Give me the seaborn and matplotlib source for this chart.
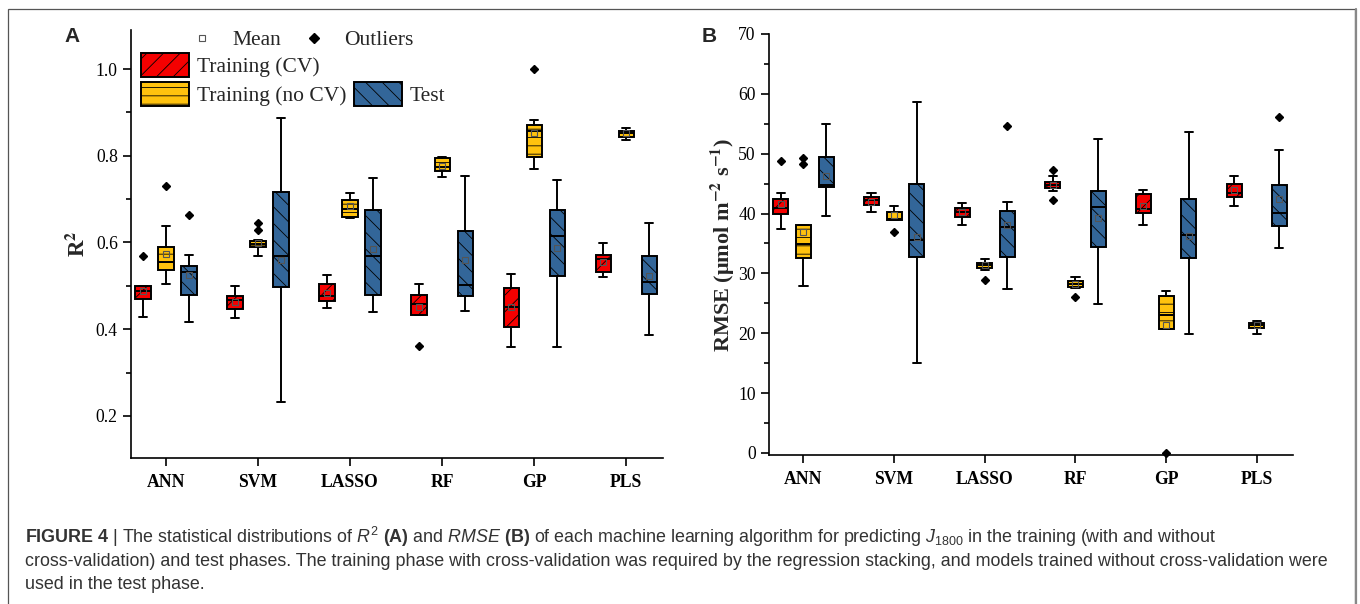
import matplotlib
matplotlib.use("Agg")
import matplotlib.pyplot as plt
import seaborn as sns
from matplotlib.patches import Patch, Rectangle
from matplotlib.lines import Line2D
from matplotlib.ticker import MultipleLocator

# ---------------- data ----------------
ALGORITHMS = ["ANN", "SVM", "LASSO", "RF", "GP", "PLS"]
PHASES = ["Training (CV)", "Training (no CV)", "Test"]
# each row: [whisker low, Q1, median, Q3, whisker high, mean]
R2_CV = [[0.428, 0.470, 0.488, 0.500, 0.500, 0.487],
         [0.425, 0.446, 0.468, 0.476, 0.500, 0.463],
         [0.449, 0.465, 0.477, 0.505, 0.524, 0.484],
         [0.433, 0.433, 0.458, 0.478, 0.504, 0.452],
         [0.359, 0.406, 0.452, 0.494, 0.527, 0.451],
         [0.520, 0.531, 0.561, 0.570, 0.599, 0.555]]
R2_CV_OUT = [[0.568], [], [], [0.362], [], []]
R2_NOCV = [[0.505, 0.537, 0.555, 0.589, 0.638, 0.573],
           [0.569, 0.589, 0.597, 0.603, 0.605, 0.599],
           [0.657, 0.658, 0.677, 0.698, 0.715, 0.683],
           [0.751, 0.764, 0.773, 0.794, 0.796, 0.776],
           [0.769, 0.798, 0.857, 0.871, 0.882, 0.852],
           [0.836, 0.844, 0.852, 0.858, 0.865, 0.853]]
R2_NOCV_OUT = [[0.730], [0.629, 0.646], [], [], [1.0], []]
R2_TEST = [[0.416, 0.480, 0.533, 0.546, 0.571, 0.525],
           [0.233, 0.497, 0.568, 0.717, 0.887, 0.559],
           [0.440, 0.480, 0.568, 0.674, 0.748, 0.584],
           [0.441, 0.476, 0.503, 0.626, 0.754, 0.559],
           [0.359, 0.523, 0.616, 0.674, 0.744, 0.587],
           [0.387, 0.482, 0.510, 0.568, 0.645, 0.523]]
R2_TEST_OUT = [[0.664], [], [], [], [], []]

RMSE_CV = [[37.4, 40.0, 40.9, 42.4, 43.4, 41.6],
           [40.3, 41.4, 42.2, 42.8, 43.4, 42.0],
           [38.0, 39.4, 40.2, 41.0, 41.8, 40.2],
           [43.8, 44.2, 44.7, 45.3, 46.3, 44.8],
           [38.1, 40.1, 40.7, 43.3, 43.9, 41.3],
           [41.3, 42.7, 43.5, 44.9, 46.2, 43.9]]
RMSE_CV_OUT = [[48.7], [], [], [47.2, 42.2], [], []]
RMSE_NOCV = [[27.9, 32.5, 34.9, 38.1, 38.1, 36.9],
             [39.0, 39.0, 39.1, 40.2, 41.3, 39.8],
             [30.5, 30.9, 31.4, 31.8, 32.4, 31.4],
             [27.5, 27.7, 28.2, 28.7, 29.4, 28.2],
             [20.7, 20.7, 23.0, 26.3, 27.1, 21.4],
             [19.9, 20.9, 21.4, 21.7, 22.1, 21.3]]
RMSE_NOCV_OUT = [[48.2, 49.3], [36.9], [28.9], [26.0], [0.0], []]
RMSE_TEST = [[39.6, 44.4, 44.8, 49.4, 55.0, 46.3],
             [15.1, 32.7, 35.6, 44.9, 58.7, 36.1],
             [27.4, 32.7, 37.7, 40.5, 41.9, 38.1],
             [24.9, 34.4, 41.1, 43.7, 52.5, 39.2],
             [19.9, 32.5, 36.4, 42.4, 53.6, 36.3],
             [34.2, 37.9, 40.1, 44.8, 50.6, 42.4]]
RMSE_TEST_OUT = [[], [], [54.7], [], [], [56.1]]

R2_TICKS = [0.2, 0.4, 0.6, 0.8, 1.0]
RMSE_TICKS = [0, 10, 20, 30, 40, 50, 60, 70]

# ---------------- style ----------------
COLORS = ["#F50000", "#FFC20E", "#336699"]
HATCHES = ["//", "--", "\\\\"]
OFFSETS = [-0.25, 0.0, 0.25]

sns.set_theme(style="ticks")
plt.rcParams["font.family"] = ["Liberation Serif", "DejaVu Serif"]
plt.rcParams["hatch.linewidth"] = 0.6
plt.rcParams["hatch.color"] = "black"
plt.rcParams["axes.edgecolor"] = "black"
plt.rcParams["xtick.color"] = "black"
plt.rcParams["ytick.color"] = "black"
plt.rcParams["mathtext.fontset"] = "custom"
plt.rcParams["mathtext.rm"] = "Liberation Sans"
plt.rcParams["mathtext.it"] = "Liberation Sans:italic"
plt.rcParams["mathtext.bf"] = "Liberation Sans:bold"

W, H = 1360, 604
fig = plt.figure(figsize=(W / 100, H / 100), dpi=100)


def box(x0, y0, x1, y1):
    return [x0 / W, 1 - y1 / H, (x1 - x0) / W, (y1 - y0) / H]


def fxy(x, y):
    return (x / W, 1 - y / H)


def make_stats(rows, outs):
    return [dict(whislo=r[0], q1=r[1], med=r[2], q3=r[3], whishi=r[4],
                 mean=r[5], fliers=o) for r, o in zip(rows, outs)]


def draw_panel(ax, groups):
    for k, (rows, outs) in enumerate(groups):
        pos = [i + 1 + OFFSETS[k] for i in range(len(ALGORITHMS))]
        ax.bxp(make_stats(rows, outs), positions=pos, widths=0.165,
               patch_artist=True, showmeans=True, manage_ticks=False,
               capwidths=0.09,
               boxprops=dict(facecolor=COLORS[k], edgecolor="black",
                             linewidth=1.4, hatch=HATCHES[k]),
               whiskerprops=dict(color="black", linewidth=1.4),
               capprops=dict(color="black", linewidth=1.4),
               medianprops=dict(color="black", linewidth=1.4),
               meanprops=dict(marker="s", markerfacecolor="none",
                              markeredgecolor="#555555", markersize=4.5,
                              markeredgewidth=0.8),
               flierprops=dict(marker="D", markerfacecolor="black",
                               markeredgecolor="black", markersize=4.5,
                               clip_on=False))
    ax.set_xlim(0.62, 6.4)
    ax.set_xticks(range(1, len(ALGORITHMS) + 1))
    ax.set_xticklabels(ALGORITHMS, fontweight="bold", fontsize=12.7)
    sns.despine(ax=ax)
    for s in ["left", "bottom"]:
        ax.spines[s].set_linewidth(1.2)
        ax.spines[s].set_color("black")
    ax.tick_params(axis="both", which="major", direction="out", length=5.5,
                   width=1.2, labelsize=12.7)
    ax.tick_params(axis="y", which="minor", direction="out", length=3.5,
                   width=1.2, left=True)
    ax.tick_params(axis="y", which="major", pad=4)
    ax.tick_params(axis="x", which="major", pad=6)
    ax.set_facecolor("none")
    ax.grid(False)


# Panel A
axA = fig.add_axes(box(131, 30, 663, 458))
draw_panel(axA, [(R2_CV, R2_CV_OUT), (R2_NOCV, R2_NOCV_OUT), (R2_TEST, R2_TEST_OUT)])
axA.set_ylim(0.103, 1.09)
axA.set_yticks(R2_TICKS)
axA.set_yticklabels([f"{t:.1f}" for t in R2_TICKS])
axA.yaxis.set_minor_locator(MultipleLocator(0.1))
axA.set_ylabel(r"R$^{\mathbf{2}}$", fontsize=16.5, fontweight="bold",
               math_fontfamily="stix")
axA.yaxis.set_label_coords(-0.078, 0.5)

# Panel B
axB = fig.add_axes(box(769, 34, 1293, 455))
draw_panel(axB, [(RMSE_CV, RMSE_CV_OUT), (RMSE_NOCV, RMSE_NOCV_OUT), (RMSE_TEST, RMSE_TEST_OUT)])
axB.set_ylim(-0.35, 70)
axB.set_yticks(RMSE_TICKS)
axB.set_yticklabels([str(t) for t in RMSE_TICKS])
axB.yaxis.set_minor_locator(MultipleLocator(5))
axB.set_ylabel(r"RMSE (μmol m$^{\mathbf{-2}}$ s$^{\mathbf{-1}}$)", fontsize=16,
               fontweight="bold", math_fontfamily="stix")
axB.yaxis.set_label_coords(-0.062, 0.5)

# Legends in panel A
mk_handles = [Line2D([], [], marker="s", markerfacecolor="none",
                     markeredgecolor="#555555", markersize=5,
                     markeredgewidth=0.8, linestyle="none"),
              Line2D([], [], marker="D", color="black", markersize=5,
                     linestyle="none")]
leg1 = fig.legend(mk_handles, ["Mean", "Outliers"], loc="upper left",
                  bbox_to_anchor=fxy(182, 30), bbox_transform=fig.transFigure,
                  ncol=2, frameon=False, fontsize=15.5, handlelength=1.9,
                  handletextpad=0.45, columnspacing=0.55, borderpad=0,
                  borderaxespad=0)
patch_handles = [Patch(facecolor=COLORS[0], edgecolor="black", hatch=HATCHES[0], linewidth=1.4),
                 Patch(facecolor=COLORS[1], edgecolor="black", hatch=HATCHES[1], linewidth=1.4),
                 Patch(facecolor="none", edgecolor="none"),
                 Patch(facecolor=COLORS[2], edgecolor="black", hatch=HATCHES[2], linewidth=1.4)]
leg2 = fig.legend(patch_handles, [PHASES[0], PHASES[1], "", PHASES[2]],
                  loc="upper left", bbox_to_anchor=fxy(141, 53),
                  bbox_transform=fig.transFigure, ncol=2, frameon=False,
                  fontsize=15.5, handlelength=2.25, handleheight=1.35,
                  handletextpad=0.35, columnspacing=0.35, labelspacing=0.2,
                  borderpad=0, borderaxespad=0)

# Panel letters
fig.text(*fxy(72, 37), "A", fontsize=15, fontweight="bold",
         family="Liberation Sans", ha="center", va="center")
fig.text(*fxy(709, 37), "B", fontsize=15, fontweight="bold",
         family="Liberation Sans", ha="center", va="center")

# Caption
cap_kw = dict(fontsize=12.9, family="Liberation Sans", color="#333333",
              ha="left", va="baseline")
fig.text(*fxy(25, 543),
         r"$\mathbf{FIGURE\ 4}$ | The statistical distributions of $\mathit{R}^{2}$ "
         r"$\mathbf{(A)}$ and $\mathit{RMSE}$ $\mathbf{(B)}$ of each machine learning "
         r"algorithm for predicting $\mathit{J}_{1800}$ in the training (with and without",
         **cap_kw)
fig.text(*fxy(25, 566),
         "cross-validation) and test phases. The training phase with cross-validation "
         "was required by the regression stacking, and models trained without "
         "cross-validation were", **cap_kw)
fig.text(*fxy(25, 589), "used in the test phase.", **cap_kw)

# Figure frame
fig.add_artist(Rectangle(fxy(8, 640), (1355 - 8) / W, (640 - 9) / H,
                         transform=fig.transFigure, fill=False,
                         edgecolor="#555555", linewidth=0.9))
fig.add_artist(Line2D([1355.5 / W, 1355.5 / W], [-0.05, 1 - 9 / H],
                      transform=fig.transFigure, color="#888888", linewidth=1.6))

fig.savefig("out.png", dpi=100, facecolor="white")
